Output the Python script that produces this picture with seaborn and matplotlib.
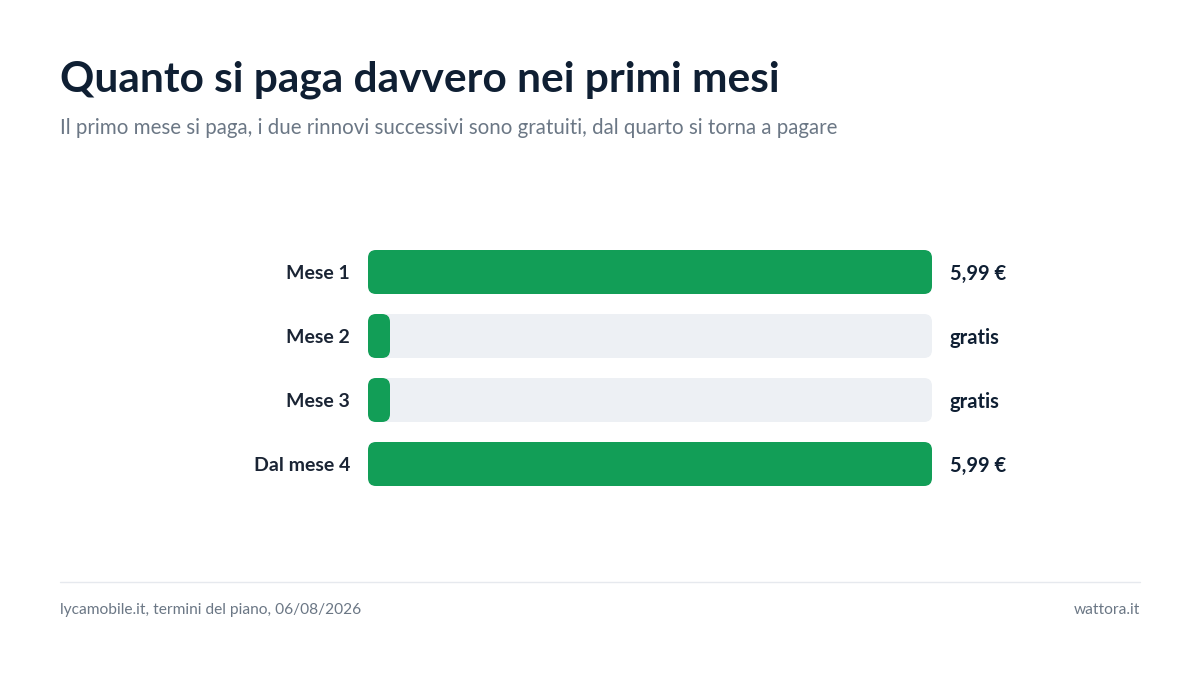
import matplotlib
matplotlib.use("Agg")
import matplotlib.pyplot as plt
import seaborn as sns
import pandas as pd
from matplotlib.patches import FancyBboxPatch
from matplotlib.lines import Line2D

categories = ["Mese 1", "Mese 2", "Mese 3", "Dal mese 4"]
values = [5.99, 0.0, 0.0, 5.99]
value_labels = ["5,99 €", "gratis", "gratis", "5,99 €"]
title = "Quanto si paga davvero nei primi mesi"
subtitle = "Il primo mese si paga, i due rinnovi successivi sono gratuiti, dal quarto si torna a pagare"
source = "lycamobile.it, termini del piano, 06/08/2026"
brand = "wattora.it"

sns.set_theme(style="white")
plt.rcParams["font.family"] = ["Lato", "DejaVu Sans"]

W, H = 1200, 675
fig = plt.figure(figsize=(12, 6.75), dpi=100)
ax = fig.add_axes([368 / W, 1 - 496 / H, (932 - 368) / W, 256 / H])

vmax = max(values)
min_disp = vmax * 22 / 564
df = pd.DataFrame({"cat": categories, "val": [max(v, min_disp) for v in values],
                   "track": [vmax] * len(values)})
sns.barplot(data=df, y="cat", x="track", color="#EDF0F4", width=44 / 64, ax=ax, orient="h", saturation=1)
sns.barplot(data=df, y="cat", x="val", color="#129E57", width=44 / 64, ax=ax, orient="h", saturation=1)
ax.set_xlim(0, vmax)
ax.set_ylim(3.5, -0.5)

rx = 8 * vmax / 564
ry = 8 / 64
for i, p in enumerate(list(ax.patches)):
    x, y, w, h = p.get_x(), p.get_y(), p.get_width(), p.get_height()
    fc = p.get_facecolor()
    p.set_visible(False)
    ax.add_patch(FancyBboxPatch((x, y), w, h, boxstyle=f"round,pad=0,rounding_size={rx}",
                                mutation_aspect=ry / rx, facecolor=fc, edgecolor="none"))

ax.set_axis_off()
for i, (c, lab) in enumerate(zip(categories, value_labels)):
    ax.text(-18 * vmax / 564, i + 0.03, c, ha="right", va="center", fontsize=14,
            fontweight="bold", color="#1a2434")
    ax.text(vmax + 18 * vmax / 564, i + 0.03, lab, ha="left", va="center", fontsize=14.5,
            fontweight="bold", color="#0f1f33")

fig.text(60 / W, 1 - 80 / H, title, fontsize=30.5, fontweight="bold", color="#0f1f33", va="center")
fig.text(60 / W, 1 - 128 / H, subtitle, fontsize=14.8, color="#6b7785", va="center")
fig.add_artist(Line2D([60 / W, 1140 / W], [1 - 582 / H] * 2, color="#e6e9ee", lw=1))
fig.text(60 / W, 1 - 610 / H, source, fontsize=11.2, color="#6b7785", va="center")
fig.text(1140 / W, 1 - 610 / H, brand, fontsize=11.2, color="#6b7785", va="center", ha="right")

fig.savefig("out.png", dpi=100, facecolor="white")
